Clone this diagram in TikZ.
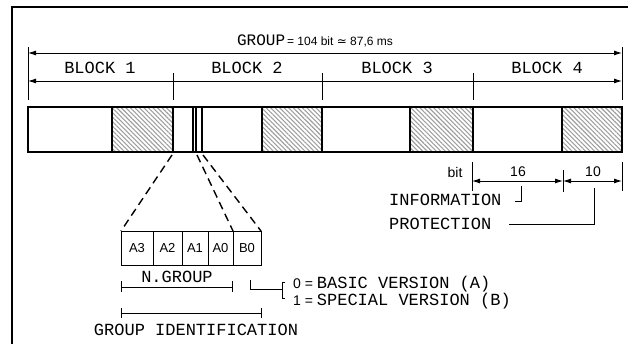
\documentclass[tikz,border=0pt]{standalone}
\usepackage{fontspec}
\setmainfont{Liberation Sans}
\setmonofont{Liberation Mono}
\newfontfamily\symfont{DejaVu Sans}
\usetikzlibrary{positioning,arrows.meta,patterns.meta}

\tikzset{
  blocktext/.style={font=\ttfamily\fontsize{17}{17}\selectfont, inner sep=0pt},
  numtext/.style={font=\fontsize{14}{14}\selectfont, inner sep=0pt},
  bitbox/.style={draw, line width=0.8pt, minimum height=34pt, inner sep=0pt, outer sep=0pt,
    font=\fontsize{13}{13}\selectfont},
  dim/.style={line width=0.9pt},
  dimarrow/.style={dim, {Latex[length=8pt,width=5pt]}-{Latex[length=8pt,width=5pt]}},
  hatch/.style={pattern={Lines[angle=-45,distance=3.2pt,line width=1.1pt]}, pattern color=gray!75},
  dashline/.style={line width=1.4pt, dash pattern=on 8pt off 5pt},
}

\begin{document}
\begin{tikzpicture}[x=1pt,y=-1pt]
  \useasboundingbox (0,0) rectangle (628,344);
  \draw [line width=2pt] (12,344) -- (12,7) -- (628,7);

  % group and blocks
  \node [inner sep=0pt, font=\fontsize{12}{12}\selectfont] (grouplabel) at (315,41)
    {{\ttfamily\fontsize{16}{16}\selectfont GROUP}\,= 104 bit {\symfont ≃} 87,6 ms};
  \coordinate (gl) at (28,53);
  \coordinate (gr) at (622,53);
  \coordinate (bl) at (28,81);
  \coordinate (br) at (622,81);
  \draw [dim] (28,47) -- (28,100) (622,47) -- (622,100);
  \foreach \x in {173,322,473}
    \draw [dim] (\x,73) -- (\x,100);
  \draw [dimarrow] (gl) -- (gr);
  \draw [dimarrow] (bl) -- (br);
  \foreach \x/\n in {100/1,247/2,397/3,547/4}
    \node [blocktext] (block\n) at (\x,68) {BLOCK \n};

  % the bar
  \foreach \a/\b in {112/173, 262/322, 410/473, 562/622}
    \fill [hatch] (\a,107) rectangle (\b,152);
  \draw [line width=2pt] (28,107) rectangle (622,152);
  \foreach \x in {112,173,262,322,410,473,562}
    \draw [line width=2pt] (\x,107) -- (\x,152);
  \foreach \x in {193,196,202}
    \draw [line width=1.5pt] (\x,107) -- (\x,152);

  % group identification bits
  \node [bitbox, minimum width=32pt] (a3) at (137,248) {A3};
  \node [bitbox, minimum width=29pt, right=0pt of a3] (a2) {A2};
  \node [bitbox, minimum width=26pt, right=0pt of a2] (a1) {A1};
  \node [bitbox, minimum width=25pt, right=0pt of a1] (a0) {A0};
  \node [bitbox, minimum width=28pt, right=0pt of a0] (b0) {B0};

  \coordinate (d1) at (172,155);
  \coordinate (d2) at (197,155);
  \coordinate (d3) at (203,155);
  \draw [dashline] (d1) -- (a3.north west);
  \draw [dashline] (d2) -- (a0.north east);
  \draw [dashline] (d3) -- (b0.north east);

  \node [blocktext] (ngroup) at (177,277) {N.GROUP};
  \draw [dim] (121,281) -- (121,292) (121,287) -- (232,287) (232,281) -- (232,292);
  \draw [dim] (121,308) -- (121,318) (121,313) -- (261,313) (261,308) -- (261,318);
  \node [blocktext] (groupid) at (196,330) {GROUP IDENTIFICATION};

  \draw [dim] (250,280) -- (250,289) -- (282,289);
  \draw [dim] (285,282) -- (282,282) -- (282,298) -- (285,298);
  \node [blocktext, anchor=west] (basic) at (293,284)
    {{\rmfamily\fontsize{14}{14}\selectfont 0 = }BASIC VERSION (A)};
  \node [blocktext, anchor=west] (special) at (293,301)
    {{\rmfamily\fontsize{14}{14}\selectfont 1 = }SPECIAL VERSION (B)};

  % bits of a block
  \node [numtext] (bitlabel) at (455,172) {bit};
  \coordinate (i0) at (472,181);
  \coordinate (i1) at (563,181);
  \coordinate (i2) at (622,181);
  \draw [dim] (472,162) -- (472,191) (563,170) -- (563,192) (622,162) -- (622,191);
  \draw [dimarrow] (i0) -- (i1);
  \draw [dimarrow] (i1) -- (i2);
  \node [numtext] (sixteen) at (518,172) {16};
  \node [numtext] (ten) at (593,172) {10};

  \node [blocktext, anchor=west] (info) at (389,200) {INFORMATION};
  \node [blocktext, anchor=west] (prot) at (389,224) {PROTECTION};
  \draw [dim] (521,186) -- (521,201) -- (515,201);
  \draw [dim] (509,224) -- (594,224) -- (594,188);
\end{tikzpicture}
\end{document}
